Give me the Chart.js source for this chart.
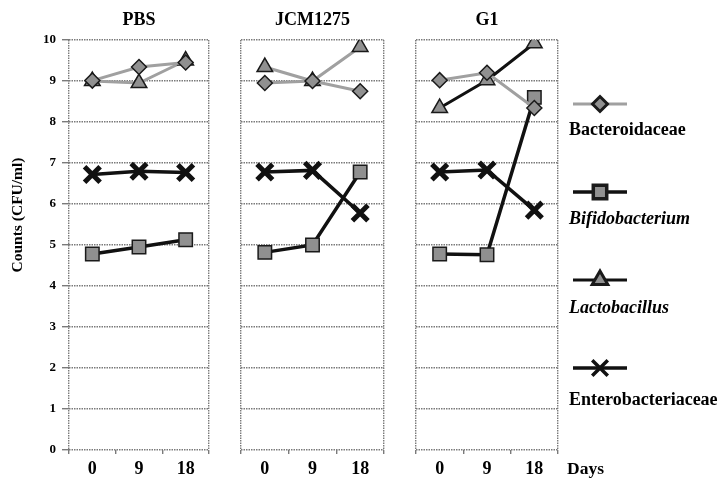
<!DOCTYPE html>
<html>
<head>
<meta charset="utf-8">
<script src="https://cdn.jsdelivr.net/npm/chart.js@4.4.1/dist/chart.umd.min.js"></script>
<style>
  body { margin: 0; background: #fff; width: 719px; height: 479px; overflow: hidden; position: relative; }
  canvas { position: absolute; top: 0; }
</style>
</head>
<body>
<canvas id="pbsChart" width="225" height="479" style="left:0"></canvas>
<canvas id="jcmChart" width="175" height="479" style="left:225px"></canvas>
<canvas id="g1Chart" width="319" height="479" style="left:400px"></canvas>
<script>
const days = ['0', '9', '18'];
const seriesNames = ['Bacteroidaceae', 'Bifidobacterium', 'Lactobacillus', 'Enterobacteriaceae'];

const pbsBacteroidaceae = [9.01, 9.34, 9.45];
const pbsBifidobacterium = [4.78, 4.95, 5.13];
const pbsLactobacillus = [9.0, 8.95, 9.5];
const pbsEnterobacteriaceae = [6.72, 6.8, 6.77];

const jcmBacteroidaceae = [8.95, 9.0, 8.75];
const jcmBifidobacterium = [4.82, 5.0, 6.78];
const jcmLactobacillus = [9.34, 9.0, 9.83];
const jcmEnterobacteriaceae = [6.78, 6.82, 5.78];

const g1Bacteroidaceae = [9.02, 9.2, 8.34];
const g1Bifidobacterium = [4.78, 4.76, 8.6];
const g1Lactobacillus = [8.34, 9.02, 9.92];
const g1Enterobacteriaceae = [6.78, 6.83, 5.85];

const serif = "'Liberation Serif', 'DejaVu Serif', serif";
const gray = '#a0a0a0';
const markFill = '#909090';
const markEdge = '#1a1a1a';
const gridCol = '#7a7a7a';

const styles = [
    { pointStyle: 'rectRot', radius: 7.5, line: gray, lw: 3 },
    { pointStyle: 'rect', radius: 9.5, line: '#111', lw: 3.5 },
    { pointStyle: 'triangle', radius: 9, line: '#111', lw: 3 },
    { pointStyle: 'crossRot', radius: 11, line: '#111', lw: 3.5 }
];

function buildDatasets(arrays, lactLine) {
    return arrays.map((arr, i) => {
        const s = styles[i];
        const cross = s.pointStyle === 'crossRot';
        return {
            label: seriesNames[i],
            data: arr,
            borderColor: i === 2 ? lactLine : s.line,
            borderWidth: s.lw,
            tension: 0,
            pointStyle: s.pointStyle,
            pointRadius: s.radius,
            pointHoverRadius: s.radius,
            pointBackgroundColor: cross ? '#111' : markFill,
            pointBorderColor: cross ? '#111' : markEdge,
            pointBorderWidth: cross ? 5 : 1.5
        };
    });
}

// panel title above the plot box
const titlePlugin = {
    id: 'panelTitle',
    afterDraw(chart, args, opts) {
        const ctx = chart.ctx, a = chart.chartArea;
        ctx.save();
        ctx.font = 'bold 18px ' + serif;
        ctx.fillStyle = '#000';
        ctx.textAlign = 'center';
        ctx.textBaseline = 'middle';
        ctx.fillText(opts.text, (a.left + a.right) / 2, 20);
        ctx.restore();
    }
};

const yTitlePlugin = {
    id: 'yTitle',
    afterDraw(chart) {
        const ctx = chart.ctx;
        ctx.save();
        ctx.translate(18, 215);
        ctx.rotate(-Math.PI / 2);
        ctx.font = 'bold 15.5px ' + serif;
        ctx.fillStyle = '#000';
        ctx.textAlign = 'center';
        ctx.textBaseline = 'middle';
        ctx.fillText('Counts (CFU/ml)', 0, 0);
        ctx.restore();
    }
};

const legendPlugin = {
    id: 'sideLegend',
    afterDraw(chart) {
        const ctx = chart.ctx;
        const markY = [104, 192, 280, 368];
        const textY = [130, 219, 308, 400];
        const italic = [false, true, true, false];
        ctx.save();
        seriesNames.forEach((name, i) => {
            const s = styles[i];
            const cross = s.pointStyle === 'crossRot';
            ctx.strokeStyle = s.line;
            ctx.lineWidth = s.lw;
            ctx.beginPath();
            ctx.moveTo(173, markY[i]);
            ctx.lineTo(227, markY[i]);
            ctx.stroke();
            ctx.fillStyle = cross ? '#111' : markFill;
            ctx.strokeStyle = cross ? '#111' : markEdge;
            Chart.helpers.drawPoint(ctx, {
                pointStyle: s.pointStyle, radius: s.radius, rotation: 0,
                borderWidth: cross ? 5 : 1.5
            }, 200, markY[i]);
            ctx.fillStyle = '#000';
            ctx.font = (italic[i] ? 'italic ' : '') + 'bold 18px ' + serif;
            ctx.textAlign = 'left';
            ctx.textBaseline = 'middle';
            ctx.fillText(name, 169, textY[i]);
        });
        ctx.font = 'bold 17.5px ' + serif;
        ctx.fillText('Days', 167, 469);
        ctx.restore();
    }
};

function makePanel(id, title, arrays, lactLine, yWidth, padRight, showTicks, extra) {
    new Chart(document.getElementById(id), {
        type: 'line',
        data: { labels: days, datasets: buildDatasets(arrays, lactLine) },
        plugins: [titlePlugin].concat(extra),
        options: {
            responsive: false,
            animation: false,
            layout: { padding: { top: 40, right: padRight, left: 0, bottom: 0 } },
            plugins: {
                legend: { display: false },
                tooltip: { enabled: false },
                panelTitle: { text: title }
            },
            scales: {
                x: {
                    type: 'category',
                    offset: true,
                    afterFit: s => { s.height = 29; },
                    border: { display: false, dash: [1.5, 1] },
                    grid: {
                        offset: true,
                        lineWidth: 1.4,
                        color: c => (c.index === 1 || c.index === 2) ? 'rgba(0,0,0,0)' : gridCol,
                        tickColor: gridCol,
                        tickLength: 4
                    },
                    ticks: {
                        color: '#000', padding: 5, maxRotation: 0, autoSkip: false,
                        font: { family: serif, size: 18, weight: 'bold' }
                    }
                },
                y: {
                    min: 0,
                    max: 10,
                    afterFit: s => { s.width = yWidth; },
                    border: { display: false, dash: [1.5, 1] },
                    grid: {
                        color: gridCol,
                        lineWidth: 1.4,
                        drawTicks: showTicks,
                        tickLength: 7
                    },
                    ticks: {
                        display: showTicks,
                        stepSize: 1,
                        color: '#000',
                        padding: 6,
                        font: { family: serif, size: 13, weight: 'bold' }
                    }
                }
            }
        }
    });
}

makePanel('pbsChart', 'PBS',
    [pbsBacteroidaceae, pbsBifidobacterium, pbsLactobacillus, pbsEnterobacteriaceae],
    gray, 69, 13, true, [yTitlePlugin]);
makePanel('jcmChart', 'JCM1275',
    [jcmBacteroidaceae, jcmBifidobacterium, jcmLactobacillus, jcmEnterobacteriaceae],
    gray, 14, 14, false, []);
makePanel('g1Chart', 'G1',
    [g1Bacteroidaceae, g1Bifidobacterium, g1Lactobacillus, g1Enterobacteriaceae],
    '#111', 11, 161, false, [legendPlugin]);
</script>
</body>
</html>
